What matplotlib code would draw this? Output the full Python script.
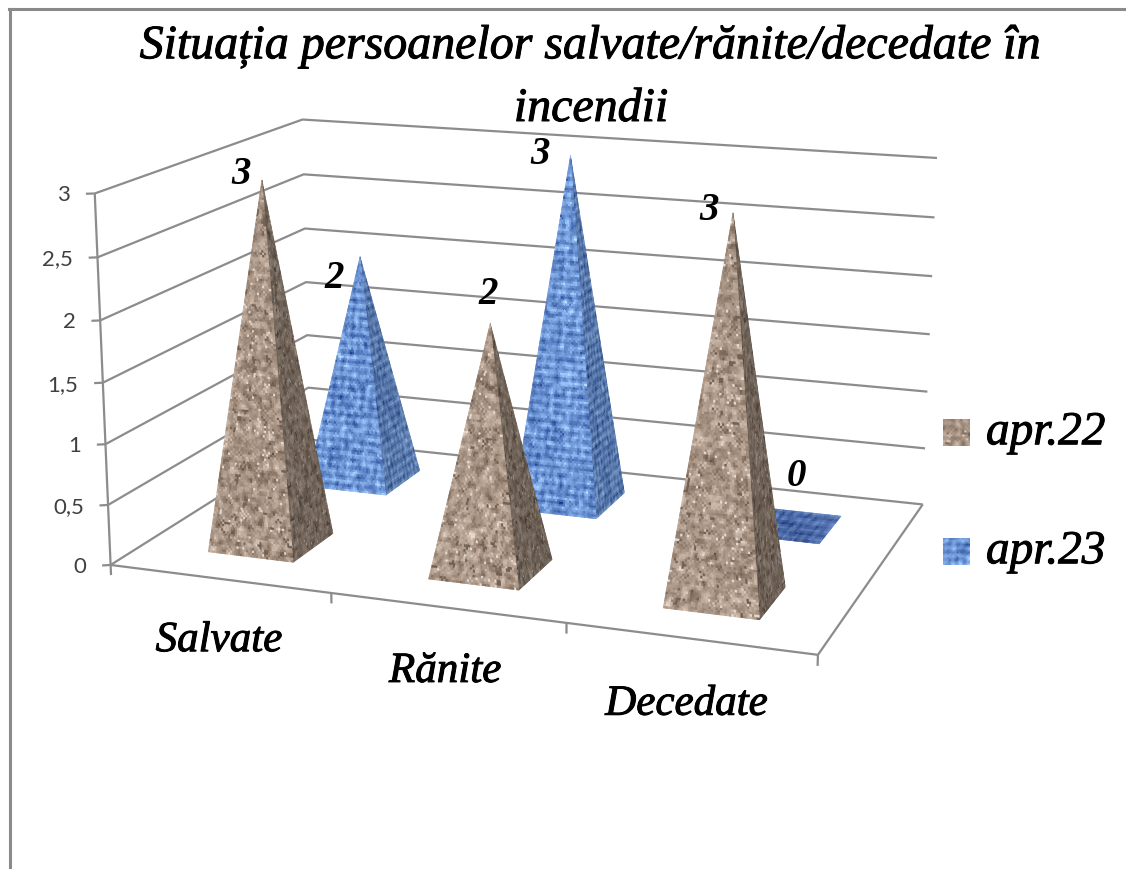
import numpy as np
import matplotlib
matplotlib.use('Agg')
import matplotlib.pyplot as plt
import matplotlib.patheffects as pe
from matplotlib.lines import Line2D
from mpl_toolkits.mplot3d.art3d import Poly3DCollection

# ---- data ----
categories = ['Salvate', 'Rănite', 'Decedate']
series_names = ['apr.22', 'apr.23']
apr22 = [3, 2, 3]
apr23 = [2, 3, 0]
z_ticks = [0, 0.5, 1, 1.5, 2, 2.5, 3]
z_tick_labels = ['0', '0,5', '1', '1,5', '2', '2,5', '3']
title_lines = ['Situația persoanelor salvate/rănite/decedate în', 'incendii']

# label offsets from each pyramid tip (x, z), the chart puts them rather oddly
label_off_22 = [(-0.094, 0.04), (-0.01, 0.24), (-0.094, 0.016)]
label_off_23 = [(-0.13, -0.20), (-0.14, 0.0), (0.04, 0.44)]

W, H = 1126, 870
GRID = '#8c8c8c'
SERIF = 'Liberation Serif'
half_w, half_d = 0.196, 0.205   # half size of pyramid base
NU, NV = 42, 160                # texture cells across a base / up a full height
heavy = [pe.withStroke(linewidth=0.7, foreground='black')]  # corsiva is darker than this serif

# granite and woven cloth, colour only
rng = np.random.default_rng(7)


def blur(a):
    return (a + np.roll(a, 1, 0) + np.roll(a, -1, 0) + np.roll(a, 1, 1) + np.roll(a, -1, 1)) / 5


def make_texture(kind, size=400):
    if kind == 'granite':
        n = blur(rng.normal(size=(size, size)))
        n = n / n.std()
        tex = np.array([170, 150, 134.0]) + n[..., None] * np.array([20, 20, 20.0])
        tex[rng.random((size, size)) > 0.975] = np.array([228, 218, 208.0])
        dark = blur((rng.random((size, size)) > 0.94) * 1.0) > 0.3
        tex[dark] = np.array([112, 96, 84.0])
    else:
        j, i = np.meshgrid(np.arange(size), np.arange(size))
        weave = np.sin(2 * np.pi * i / 4.0) * 0.9 + np.sin(2 * np.pi * j / 4.0) * 0.5
        n = blur(rng.normal(size=(size, size)))
        n = weave + 0.8 * n / n.std()
        tex = np.array([108, 148, 212.0]) + n[..., None] * np.array([22, 24, 20.0])
    return np.clip(tex, 0, 255) / 255


tex_22 = make_texture('granite')
tex_23 = make_texture('cloth')


def face_cells(p0, p1, tip, height, tex, shade):
    # split one triangle in rows of small quads, fewer cells as it narrows
    p0, p1, tip = np.array(p0, float), np.array(p1, float), np.array(tip, float)
    rows = max(2, int(NV * height / 3))
    off = rng.integers(0, 200, 2)
    verts, cols = [], []
    for r in range(rows):
        t0, t1 = r / rows, (r + 1) / rows
        n = max(1, int(np.ceil(NU * (1 - t0))))
        for c in range(n):
            s0, s1 = c / n, (c + 1) / n
            a0, a1 = p0 + (tip - p0) * t0, p1 + (tip - p1) * t0
            b0, b1 = p0 + (tip - p0) * t1, p1 + (tip - p1) * t1
            verts.append([a0 + (a1 - a0) * s0, a0 + (a1 - a0) * s1,
                          b0 + (b1 - b0) * s1, b0 + (b1 - b0) * s0])
            cols.append(tex[(off[0] + r) % 400, (off[1] + c + (NU - n) // 2) % 400] * shade)
    return verts, cols


def flat_cells(cx, cy, tex, shade):
    verts, cols = [], []
    n = 14
    xs = np.linspace(cx - half_w, cx + half_w, NU + 1)
    ys = np.linspace(cy - half_d, cy + half_d, n + 1)
    for r in range(n):
        for c in range(NU):
            verts.append([(xs[c], ys[r], 0), (xs[c + 1], ys[r], 0), (xs[c + 1], ys[r + 1], 0), (xs[c], ys[r + 1], 0)])
            cols.append(tex[r, c] * shade)
    return verts, cols


def add_cells(verts, cols, z):
    col = Poly3DCollection(verts, facecolors=cols, edgecolors=cols, linewidths=0.5, zorder=z)
    ax.add_collection3d(col)


fig = plt.figure(figsize=(W / 100, H / 100), dpi=100, facecolor='white')
ax = fig.add_axes([70.09 / W, 49.827 / H, 898.905 / W, 898.905 / H], projection='3d', computed_zorder=False)
ax.set_xlim(0, 3, view_margin=0)
ax.set_ylim(0, 2, view_margin=0)
ax.set_zlim(0, 3, view_margin=0)
ax.view_init(14.4931, -70.1387, -0.0501)
ax.set_proj_type('persp', focal_length=0.5250)
ax.set_box_aspect((1, 0.6553, 0.5215))
ax.set_xticks([])
ax.set_yticks([])
ax.set_zticks([])
ax.set_axis_off()

# walls and floor
line_kw = dict(color=GRID, lw=1.6, zorder=1, solid_capstyle='butt')
for z, lab in zip(z_ticks, z_tick_labels):
    ax.plot([0, 0, 3], [0, 2, 2], [z, z, z], **line_kw)
    ax.plot([-0.03, 0], [-0.018, 0], [z, z], **line_kw)
    ax.text(-0.085, -0.05, z, lab, ha='right', va='center', family='Lato', fontsize=16, color='#404040')
ax.plot([0, 0], [0, 0], [0, 3], **line_kw)
ax.plot([0, 3, 3], [0, 0, 2], [0, 0, 0], **line_kw)
for x in range(len(categories) + 1):
    ax.plot([x, x], [0, 0], [0, -0.085], **line_kw)

# pyramids, back row first
z_now = 2
for i, v in enumerate(apr23 + apr22):
    row = 1 if i < 3 else 0
    cat = i % 3
    cx, cy = cat + 0.5, row + 0.5
    tex = tex_23 if row == 1 else tex_22
    x0, x1, y0, y1 = cx - half_w, cx + half_w, cy - half_d, cy + half_d
    if v == 0:
        verts, cols = flat_cells(cx, cy, tex, np.array([0.68, 0.70, 0.78]))
        add_cells(verts, cols, z_now)
    else:
        tip = (cx, cy, v)
        side = 0.66 if row == 0 else 0.80
        verts, cols = face_cells((x1, y0, 0), (x1, y1, 0), tip, v, tex, side)
        add_cells(verts, cols, z_now)
        verts, cols = face_cells((x0, y0, 0), (x1, y0, 0), tip, v, tex, 1.0)
        add_cells(verts, cols, z_now + 1)
    z_now += 2

# labels on the tips
for row, vals, offs in [(0, apr22, label_off_22), (1, apr23, label_off_23)]:
    for cat, v in enumerate(vals):
        ax.text(cat + 0.5 + offs[cat][0], row + 0.5, v + offs[cat][1], str(v), ha='center', va='center',
                family=SERIF, style='italic', fontweight='bold', fontsize=28, color='black', zorder=30)

for cat, name in enumerate(categories):
    ax.text(cat + 0.49, 0, -0.52, name, ha='center', va='center', family=SERIF, style='italic',
            fontsize=31, color='black', zorder=30, path_effects=heavy)

# title and legend live outside the 3d box
fig.text(590 / W, 1 - 47 / H, title_lines[0], ha='center', va='center', family=SERIF, style='italic',
         fontsize=34.5, path_effects=heavy)
fig.text(591 / W, 1 - 110 / H, title_lines[1], ha='center', va='center', family=SERIF, style='italic',
         fontsize=34.5, path_effects=heavy)

for name, tex, top in [(series_names[0], tex_22, 420), (series_names[1], tex_23, 539)]:
    sw = fig.add_axes([943 / W, 1 - (top + 27) / H, 27 / W, 27 / H], xticks=[], yticks=[])
    sw.imshow(tex[:14, :14], interpolation='bilinear')
    sw.set_xticks([])
    sw.set_yticks([])
    sw.axis('off')
    fig.text(986 / W, 1 - (top + 14) / H, name, ha='left', va='center', family=SERIF, style='italic',
             fontsize=34, path_effects=heavy)

# chart border, only left and top are in the crop
fig.add_artist(Line2D([9.5 / W, 9.5 / W], [0, 1 - 10 / H], color='#8a8a8a', lw=2.2))
fig.add_artist(Line2D([8.5 / W, 1], [1 - 10 / H, 1 - 10 / H], color='#8a8a8a', lw=2.2))

fig.savefig('out.png', dpi=100)
